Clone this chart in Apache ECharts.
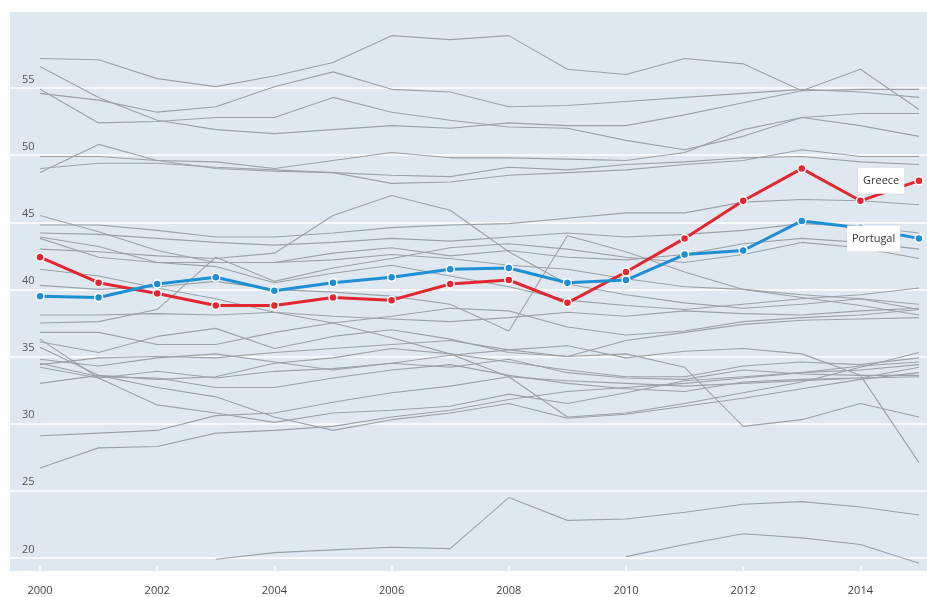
<!DOCTYPE html>
<html>
<head>
<meta charset="utf-8">
<script src="https://cdn.jsdelivr.net/npm/echarts@6/dist/echarts.min.js"></script>
<style>
    html, body { margin: 0; padding: 0; background: #fff; }
    #chart { width: 927px; height: 597px; }
</style>
</head>
<body>
<div id="chart"></div>
<script>
//------------------------------------------------ data
var years = ['2000', '2001', '2002', '2003', '2004', '2005', '2006', '2007',
    '2008', '2009', '2010', '2011', '2012', '2013', '2014', '2015'];
var yTicks = [20, 55, 5];   // min, max, step of the value axis

var greece = [42.4, 40.5, 39.7, 38.8, 38.8, 39.4, 39.2, 40.4, 40.7, 39.0, 41.3, 43.8, 46.6, 49.0, 46.6, 48.1];
var portugal = [39.5, 39.4, 40.4, 40.9, 39.9, 40.5, 40.9, 41.5, 41.6, 40.5, 40.7, 42.6, 42.9, 45.1, 44.6, 43.8];

// the other countries, drawn in grey
var others = [
    [57.2, 57.1, 55.7, 55.1, 55.9, 56.9, 58.9, 58.6, 58.9, 56.4, 56.0, 57.2, 56.8, 54.8, 56.4, 53.4],
    [56.6, 54.3, 52.6, 51.9, 51.6, 51.9, 52.2, 52.0, 52.4, 52.2, 52.2, 53.0, 53.9, 54.8, 54.9, 54.9],
    [54.9, 52.4, 52.5, 52.8, 52.8, 54.3, 53.2, 52.6, 52.1, 52.0, 51.1, 50.4, 51.4, 52.8, 52.2, 51.4],
    [54.6, 54.1, 53.2, 53.6, 55.1, 56.2, 54.9, 54.7, 53.6, 53.7, 54.0, 54.3, 54.6, 54.9, 54.7, 54.3],
    [49.9, 49.9, 49.6, 49.5, 49.0, 49.6, 50.2, 49.8, 49.8, 49.7, 49.6, 50.2, 51.9, 52.8, 53.1, 53.1],
    [49.0, 49.4, 49.4, 49.1, 48.9, 48.7, 48.5, 48.4, 49.1, 48.9, 49.3, 49.5, 49.8, 49.9, 49.5, 49.3],
    [48.7, 50.8, 49.6, 49.0, 48.8, 48.7, 47.9, 48.0, 48.5, 48.7, 48.9, 49.3, 49.6, 50.4, 49.9, 49.9],
    [45.5, 44.3, 42.9, 42.0, 42.0, 42.2, 42.6, 42.3, 41.8, 41.5, 40.8, 40.2, 40.0, 39.6, 39.3, 38.9],
    [44.8, 44.8, 44.4, 43.9, 43.9, 44.2, 44.6, 44.8, 44.9, 45.3, 45.7, 45.7, 46.5, 46.7, 46.6, 46.3],
    [44.2, 44.1, 43.8, 43.5, 43.3, 43.5, 43.8, 43.6, 43.9, 44.2, 43.9, 44.1, 44.4, 44.9, 44.7, 44.2],
    [43.9, 43.2, 42.0, 42.0, 42.0, 42.7, 43.1, 42.5, 42.9, 42.4, 42.2, 42.6, 43.4, 43.8, 43.5, 43.0],
    [43.8, 42.4, 42.0, 41.7, 40.5, 41.2, 41.8, 41.0, 40.2, 39.2, 38.8, 38.5, 38.9, 39.3, 39.6, 40.1],
    [37.5, 37.6, 38.5, 42.4, 40.6, 41.6, 42.3, 43.1, 43.4, 43.0, 42.4, 42.0, 42.6, 43.5, 43.1, 42.3],
    [43.0, 42.8, 42.5, 42.3, 42.7, 45.5, 47.0, 45.9, 42.8, 40.4, 39.6, 39.0, 38.6, 38.9, 39.3, 38.5],
    [40.3, 40.0, 40.2, 40.6, 40.0, 39.8, 39.5, 38.9, 36.9, 44.0, 42.8, 41.3, 40.0, 39.4, 38.8, 38.1],
    [38.1, 38.1, 38.2, 38.1, 38.3, 38.0, 37.8, 37.6, 37.9, 38.3, 38.0, 38.4, 38.2, 38.1, 38.4, 38.6],
    [36.8, 36.8, 35.9, 35.9, 36.8, 37.5, 38.0, 38.6, 38.4, 37.2, 36.6, 36.9, 37.6, 37.9, 38.1, 38.5],
    [36.1, 35.3, 36.5, 37.1, 35.6, 36.5, 37.0, 36.3, 35.3, 35.0, 36.2, 36.8, 37.4, 37.7, 37.8, 37.9],
    [41.5, 41.0, 40.1, 39.3, 38.3, 37.5, 36.4, 35.2, 33.5, 30.5, 30.8, 31.5, 32.3, 33.1, 34.2, 35.3],
    [34.4, 34.9, 35.0, 34.9, 35.3, 35.6, 35.9, 36.2, 35.5, 35.0, 35.2, 34.2, 29.8, 30.3, 31.5, 30.5],
    [34.8, 34.3, 34.9, 35.2, 34.6, 34.0, 34.5, 35.1, 35.5, 35.8, 34.9, 35.4, 35.6, 35.2, 33.6, 27.1],
    [36.3, 33.4, 31.4, 30.8, 30.1, 30.8, 31.0, 31.3, 32.2, 31.5, 32.3, 33.2, 33.5, 33.8, 34.3, 34.6],
    [35.7, 33.6, 32.7, 32.0, 30.5, 29.5, 30.3, 30.8, 31.5, 30.4, 30.7, 31.3, 31.9, 32.6, 33.3, 33.8],
    [34.5, 33.5, 33.4, 32.7, 32.7, 33.4, 34.0, 34.4, 33.6, 33.0, 32.6, 32.4, 33.1, 33.3, 33.4, 34.2],
    [34.2, 33.4, 33.9, 33.4, 33.9, 34.1, 34.5, 34.2, 34.8, 33.8, 33.4, 33.3, 34.0, 33.7, 33.6, 33.6],
    [33.0, 33.6, 33.3, 33.5, 34.5, 34.9, 35.6, 35.2, 34.6, 34.0, 33.5, 33.5, 34.3, 34.6, 34.4, 34.9],
    [26.7, 28.2, 28.3, 29.3, 29.5, 29.8, 30.5, 31.0, 31.8, 32.4, 32.7, 33.0, 33.4, 33.8, 34.0, 34.4],
    [29.1, 29.3, 29.5, 30.6, 30.8, 31.6, 32.3, 32.8, 33.5, 33.2, 33.0, 32.8, 33.0, 33.2, 33.4, 33.5],
    [null, null, null, 19.9, 20.4, 20.6, 20.8, 20.7, 24.5, 22.8, 22.9, 23.4, 24.0, 24.2, 23.8, 23.2],
    [null, null, null, null, null, null, null, null, null, null, 20.1, 21.0, 21.8, 21.5, 21.0, 19.6]
];

//------------------------------------------------ chart
var chart = echarts.init(document.getElementById('chart'));

var series = others.map(function (row) {
    return {
        type: 'line',
        xAxisIndex: 1,
        yAxisIndex: 1,
        data: row,
        showSymbol: false,
        silent: true,
        z: 1,
        lineStyle: {color: '#9ba1a7', width: 1.1}
    };
});

function lastLabel(arr, name, dist) {
    return arr.map(function (v, i) {
        if (i < arr.length - 1) return v;
        return {
            value: v,
            label: {
                show: true,
                position: 'left',
                distance: dist,
                formatter: name,
                backgroundColor: '#fff',
                padding: [8, 5, 7, 5],
                color: '#333',
                fontSize: 11,
                fontFamily: 'Open Sans',
                shadowBlur: 3,
                shadowColor: 'rgba(0,0,0,0.15)'
            }
        };
    });
}

series.push({
    name: 'Greece',
    type: 'line',
    xAxisIndex: 1,
    yAxisIndex: 1,
    data: lastLabel(greece, 'Greece', 10),
    symbol: 'circle',
    symbolSize: 8,
    z: 5,
    lineStyle: {color: '#e3262f', width: 3},
    itemStyle: {color: '#e3262f', borderColor: '#fff', borderWidth: 1.5}
});
series.push({
    name: 'Portugal',
    type: 'line',
    xAxisIndex: 1,
    yAxisIndex: 1,
    data: lastLabel(portugal, 'Portugal', 14),
    symbol: 'circle',
    symbolSize: 8,
    z: 6,
    lineStyle: {color: '#1e8fd5', width: 3},
    itemStyle: {color: '#1e8fd5', borderColor: '#fff', borderWidth: 1.5}
});

chart.setOption({
    animation: false,
    textStyle: {fontFamily: 'Open Sans'},
    graphic: [{
        type: 'rect',
        z: -100,
        silent: true,
        shape: {x: 10, y: 12, width: 917, height: 559},
        style: {fill: '#dfe8f1'}
    }],
    grid: [
        // grid lines and value labels: 55 at y=88, 20 at y=558
        {left: 10, right: 0, top: 88, bottom: 39},
        // data area
        {left: 40, right: 8, top: 12, bottom: 26}
    ],
    xAxis: [
        {gridIndex: 0, type: 'value', show: false},
        {
            gridIndex: 1,
            type: 'category',
            data: years,
            boundaryGap: false,
            axisLine: {show: false},
            axisTick: {show: true, inside: true, length: 5, interval: 1, lineStyle: {color: '#fff', width: 1.5}},
            axisLabel: {interval: 1, color: '#444', fontSize: 11, margin: 14},
            splitLine: {show: false}
        }
    ],
    yAxis: [
        {
            gridIndex: 0,
            type: 'value',
            min: yTicks[0],
            max: yTicks[1],
            interval: yTicks[2],
            axisLine: {show: false},
            axisTick: {show: false},
            axisLabel: {
                inside: true,
                margin: 12,
                color: '#555',
                fontSize: 11,
                verticalAlign: 'bottom',
                padding: [0, 0, 3, 0]
            },
            splitLine: {lineStyle: {color: '#ffffff', width: 1.5}}
        },
        {
            gridIndex: 1,
            type: 'value',
            min: 19.03,
            max: 60.66,
            show: false,
            splitLine: {show: false}
        }
    ],
    series: series
});
</script>
</body>
</html>
